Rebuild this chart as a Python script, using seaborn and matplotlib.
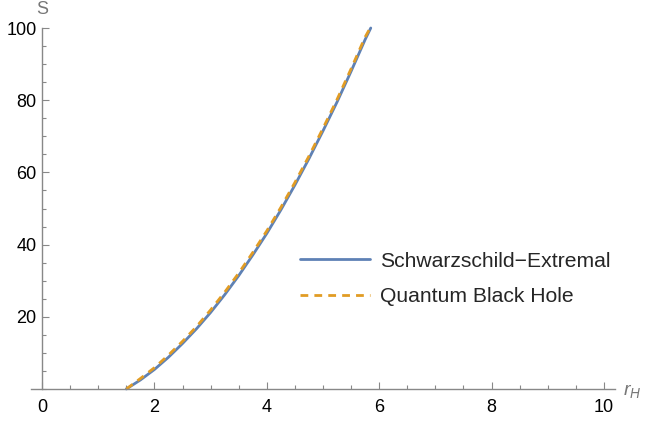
import matplotlib
matplotlib.use("Agg")
import matplotlib.pyplot as plt
import seaborn as sns
import pandas as pd
from matplotlib.ticker import MultipleLocator

# valores
r_h = [1.5, 1.75, 2.0, 2.25, 2.5, 2.75, 3.0, 3.25, 3.5, 3.75, 4.0,
       4.25, 4.5, 4.75, 5.0, 5.25, 5.5, 5.75, 5.85]
s_schwarzschild = [0.0, 2.5, 5.4, 8.8, 12.6, 16.7, 21.2, 26.1, 31.4, 37.1, 43.1,
                   49.6, 56.5, 63.8, 71.5, 79.5, 88.0, 96.8, 100.0]
s_quantum = [0.0, 2.9, 5.9, 9.4, 13.2, 17.3, 21.9, 26.8, 32.1, 37.8, 43.8,
             50.3, 57.2, 64.5, 72.2, 80.2, 88.7, 97.5, 100.3]
labels = ["Schwarzschild\u2212Extremal", "Quantum Black Hole"]

df = pd.DataFrame({"r": r_h, "S1": s_schwarzschild, "S2": s_quantum})

sns.set_theme(style="white")
plt.rcParams['font.family'] = ['Liberation Sans', 'DejaVu Sans']
plt.rcParams['mathtext.fontset'] = 'custom'
plt.rcParams['mathtext.it'] = 'Liberation Sans:italic'
plt.rcParams['mathtext.rm'] = 'Liberation Sans'

fig = plt.figure(figsize=(6.47, 4.24), dpi=100)
ax = fig.add_axes([30.8 / 647, 35 / 424, 584.4 / 647, 361 / 424])

axis_gray = "#888888"
sns.lineplot(data=df, x="r", y="S1", ax=ax, color="#5E81B5", linewidth=2.0,
             label=labels[0], clip_on=False)
sns.lineplot(data=df, x="r", y="S2", ax=ax, color="#E19C24", linewidth=2.0,
             label=labels[1], clip_on=False)
ax.lines[1].set_dashes((2.8, 2.2))

ax.set_xlim(-0.2, 10.2)
ax.set_ylim(0, 100)
ax.set_xticks([0, 2, 4, 6, 8, 10])
ax.set_yticks([20, 40, 60, 80, 100])
ax.xaxis.set_minor_locator(MultipleLocator(0.5))
ax.yaxis.set_minor_locator(MultipleLocator(5))
ax.set_xlabel("")
ax.set_ylabel("")

for side in ["top", "right"]:
    ax.spines[side].set_visible(False)
ax.spines["left"].set_position(("data", 0))
for side in ["left", "bottom"]:
    ax.spines[side].set_color(axis_gray)
    ax.spines[side].set_linewidth(1.0)

ax.tick_params(which="both", direction="in", color=axis_gray, width=0.8,
               labelsize=13, labelcolor="#000000", left=True, bottom=True)
ax.tick_params(axis="x", which="major", length=5, pad=7)
ax.tick_params(axis="x", which="minor", length=3)
ax.tick_params(axis="y", which="major", length=5, pad=4)
ax.tick_params(axis="y", which="minor", length=3)

fig.text(42.5 / 647, 1 - 9 / 424, "S", color="#777777", fontsize=13,
         ha="center", va="center")
fig.text(623 / 647, 1 - 391 / 424, "$r_H$", color="#777777", fontsize=14,
         ha="left", va="center")

leg = ax.legend(loc="center left", bbox_to_anchor=(300 / 647, 1 - 279 / 424),
                bbox_transform=fig.transFigure, frameon=False, fontsize=15.2,
                handlelength=3.3, handletextpad=0.5, labelspacing=0.8,
                borderpad=0, borderaxespad=0)
leg.get_lines()[1].set_dashes((2.8, 2.2))

fig.savefig("out.png", dpi=100)
